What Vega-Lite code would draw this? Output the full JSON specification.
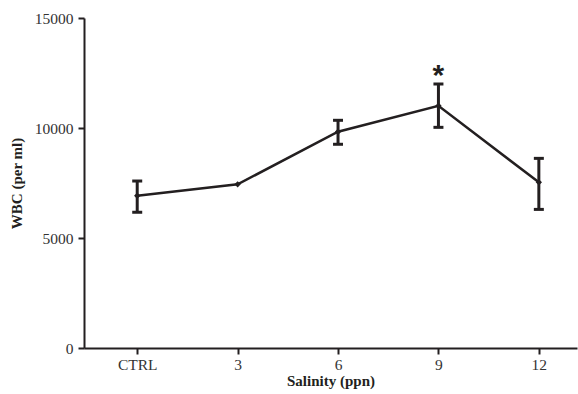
{
  "$schema": "https://vega.github.io/schema/vega-lite/v6.json",
  "width": 493,
  "height": 330,
  "autosize": {"type": "none"},
  "padding": {"left": 84, "top": 18, "right": 1, "bottom": 46},
  "background": "white",
  "config": {
    "view": {"stroke": null},
    "font": "Liberation Serif",
    "axis": {
      "grid": false,
      "domainColor": "#231f20",
      "domainWidth": 2,
      "tickColor": "#231f20",
      "tickWidth": 2,
      "tickSize": 6,
      "labelFont": "Liberation Serif",
      "labelFontSize": 15.5,
      "labelColor": "#333333",
      "titleFont": "Liberation Serif",
      "titleFontSize": 15,
      "titleFontWeight": "bold",
      "titleColor": "#231f20"
    }
  },
  "data": {
    "values": [
      {"sal": 0, "mean": 6920, "lo": 6170, "hi": 7590, "sig": ""},
      {"sal": 3, "mean": 7440, "lo": null, "hi": null, "sig": ""},
      {"sal": 6, "mean": 9830, "lo": 9260, "hi": 10350, "sig": ""},
      {"sal": 9, "mean": 11010, "lo": 10030, "hi": 12000, "sig": "*"},
      {"sal": 12, "mean": 7530, "lo": 6300, "hi": 8620, "sig": ""}
    ]
  },
  "encoding": {
    "x": {
      "field": "sal",
      "type": "quantitative",
      "scale": {"domain": [-1.59, 13.14], "nice": false, "zero": false},
      "axis": {
        "values": [0, 3, 6, 9, 12],
        "labelExpr": "datum.value == 0 ? 'CTRL' : datum.label",
        "title": "Salinity (ppn)",
        "labelPadding": 3,
        "titlePadding": 1
      }
    }
  },
  "layer": [
    {
      "mark": {"type": "line", "color": "#231f20", "strokeWidth": 2.5},
      "encoding": {
        "y": {
          "field": "mean",
          "type": "quantitative",
          "scale": {"domain": [0, 15000], "nice": false},
          "axis": {
            "values": [0, 5000, 10000, 15000],
            "format": "d",
            "title": "WBC (per ml)",
            "labelPadding": 5,
            "titlePadding": 10
          }
        }
      }
    },
    {
      "mark": {"type": "point", "shape": "diamond", "filled": true, "color": "#231f20", "size": 40, "opacity": 1},
      "encoding": {"y": {"field": "mean", "type": "quantitative"}}
    },
    {
      "transform": [{"filter": "datum.lo != null"}],
      "mark": {"type": "rule", "color": "#231f20", "strokeWidth": 3},
      "encoding": {
        "y": {"field": "lo", "type": "quantitative"},
        "y2": {"field": "hi"}
      }
    },
    {
      "transform": [{"filter": "datum.lo != null"}, {"fold": ["lo", "hi"], "as": ["k", "v"]}],
      "mark": {"type": "tick", "orient": "horizontal", "color": "#231f20", "thickness": 3, "size": 10, "opacity": 1},
      "encoding": {"y": {"field": "v", "type": "quantitative"}}
    },
    {
      "transform": [{"filter": "datum.sig != ''"}],
      "mark": {"type": "text", "fontSize": 30, "fontWeight": "bold", "font": "Liberation Sans", "color": "#231f20", "baseline": "middle", "dy": 6},
      "encoding": {
        "y": {"datum": 12650, "type": "quantitative"},
        "text": {"field": "sig"}
      }
    }
  ]
}
